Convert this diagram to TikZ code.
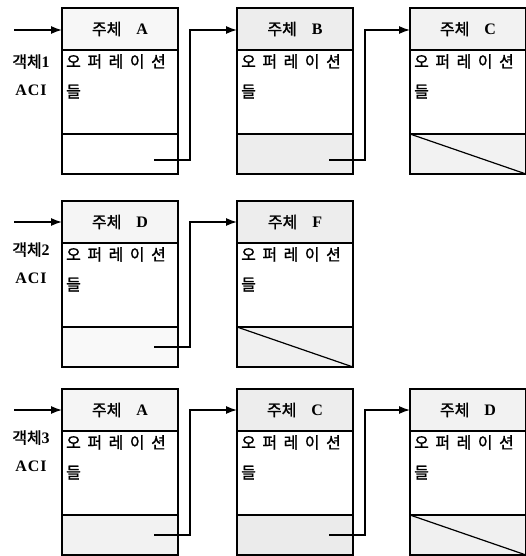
\documentclass[tikz,border=0pt]{standalone}
\usepackage{fontspec}
\setmainfont{Liberation Serif}
\newfontfamily\cjk[FakeBold=1.3]{Noto Sans CJK KR}
\usetikzlibrary{arrows.meta}
\tikzset{
  part/.style={draw=black, line width=1.2pt, rectangle, minimum width=116pt, inner sep=0pt, outer sep=0pt},
  hdr/.style={part, minimum height=42pt, font=\fontsize{16}{18}\selectfont},
  bdy/.style={part, minimum height=84pt, fill=white},
  ftr/.style={part, minimum height=40pt},
  lnk/.style={line width=1.3pt, -{Latex[length=11pt,width=8pt]}},
  side/.style={font=\fontsize{16}{28}\selectfont, align=center, inner sep=0pt},
  optext/.style={font=\fontsize{16}{30}\selectfont, align=left, anchor=north west, inner sep=0pt}
}
\newcommand{\opsword}{{\cjk 오\kern6.5pt 퍼\kern6.5pt 레\kern6.5pt 이\kern6.5pt 션}\\{\cjk 들}}
% #1 name, #2 x left, #3 y top, #4 letter, #5 header fill, #6 footer fill
\newcommand{\objbox}[6]{%
  \node[hdr, fill=#5, anchor=north west] (#1h) at (#2,#3) {{\cjk 주체}\hspace{15pt}\textbf{#4}};
  \node[bdy, anchor=north] (#1b) at (#1h.south) {};
  \node[ftr, fill=#6, anchor=north] (#1f) at (#1b.south) {};
  \node[optext] (#1t) at ([xshift=4pt,yshift=-4pt]#1b.north west) {\opsword};
}
\begin{document}
\begin{tikzpicture}[x=1pt,y=-1pt]
\useasboundingbox (0,0) rectangle (526,556);
% Row 1
\objbox{a1}{62}{8}{A}{gray!6}{white}
\objbox{b1}{237}{8}{B}{gray!14}{gray!14}
\objbox{c1}{410}{8}{C}{gray!10}{gray!10}
\draw[line width=1.2pt] (c1f.north west) -- (c1f.south east);
% Row 2
\objbox{a2}{62}{201}{D}{gray!8}{gray!5}
\objbox{b2}{237}{201}{F}{gray!14}{gray!12}
\draw[line width=1.2pt] (b2f.north west) -- (b2f.south east);
% Row 3
\objbox{a3}{62}{389}{A}{gray!8}{gray!10}
\objbox{b3}{237}{389}{C}{gray!14}{gray!16}
\objbox{c3}{410}{389}{D}{gray!10}{gray!12}
\draw[line width=1.2pt] (c3f.north west) -- (c3f.south east);
% side labels
\node[side] (l1) at (31,75) {{\cjk 객체}\textbf{1}\\\textbf{A\kern1pt C\kern1pt I}};
\node[side] (l2) at (31,263) {{\cjk 객체}\textbf{2}\\\textbf{A\kern1pt C\kern1pt I}};
\node[side] (l3) at (31,451) {{\cjk 객체}\textbf{3}\\\textbf{A\kern1pt C\kern1pt I}};
% entry arrows
\coordinate (e1) at (14,30);
\coordinate (e2) at (14,222);
\coordinate (e3) at (14,410);
\draw[lnk] (e1) -- (e1 -| a1h.west);
\draw[lnk] (e2) -- (e2 -| a2h.west);
\draw[lnk] (e3) -- (e3 -| a3h.west);
% links
\coordinate (s1) at (154,160);
\coordinate (s2) at (329,160);
\coordinate (s3) at (154,347);
\coordinate (s4) at (154,535);
\coordinate (s5) at (329,535);
\draw[lnk] (s1) -- (190,160) -- (190,30) -- (b1h.west |- 0,30);
\draw[lnk] (s2) -- (365,160) -- (365,30) -- (c1h.west |- 0,30);
\draw[lnk] (s3) -- (190,347) -- (190,222) -- (b2h.west |- 0,222);
\draw[lnk] (s4) -- (190,535) -- (190,410) -- (b3h.west |- 0,410);
\draw[lnk] (s5) -- (365,535) -- (365,410) -- (c3h.west |- 0,410);
\end{tikzpicture}
\end{document}
